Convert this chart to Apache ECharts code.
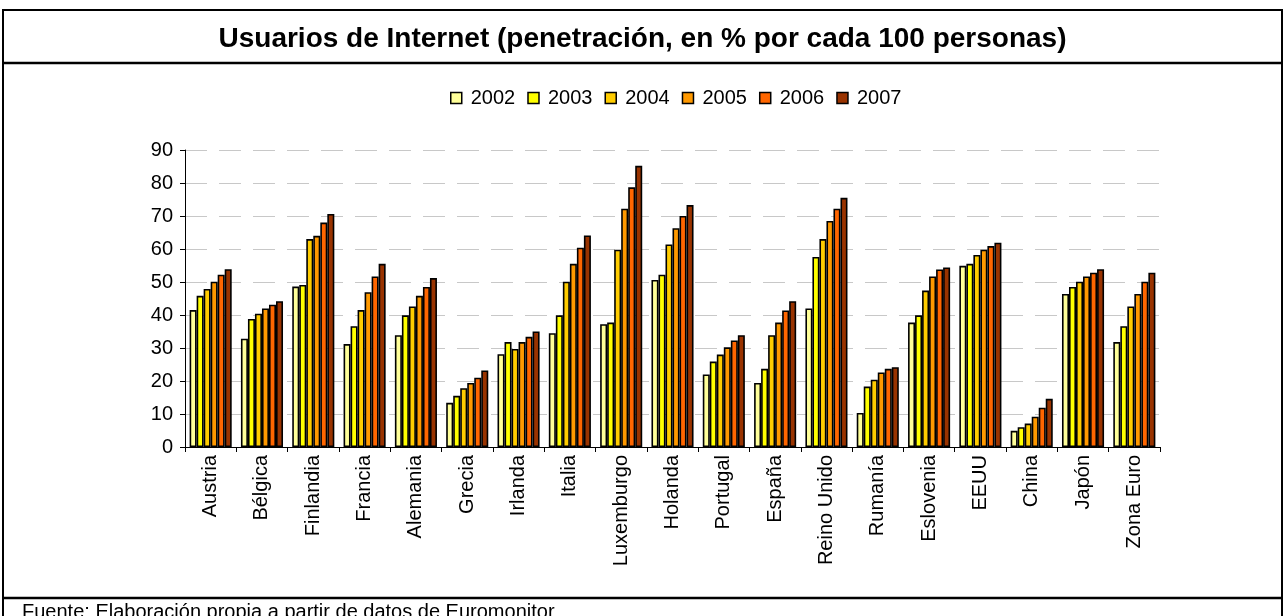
<!DOCTYPE html>
<html lang="es">
<head>
    <meta charset="UTF-8">
    <title>Usuarios de Internet</title>
    <script src="https://cdn.jsdelivr.net/npm/echarts@6.0.0/dist/echarts.min.js"></script>
    <style>
        html, body { margin: 0; padding: 0; background: #fff; }
    </style>
</head>
<body>
    <div id="main" style="width: 1285px;height:616px;"></div>

    <script type="text/javascript">
        // Countries on the x axis
        const categories = ['Austria', 'Bélgica', 'Finlandia', 'Francia', 'Alemania', 'Grecia', 'Irlanda', 'Italia',
            'Luxemburgo', 'Holanda', 'Portugal', 'España', 'Reino Unido', 'Rumanía', 'Eslovenia', 'EEUU',
            'China', 'Japón', 'Zona Euro'];

        const years = ['2002', '2003', '2004', '2005', '2006', '2007'];

        // values, one array per year
        const v2002 = [41.5, 32.8, 48.6, 31.2, 33.9, 13.4, 28.1, 34.5, 37.2, 50.6, 22.0, 19.4, 42.0, 10.3, 37.7, 54.9, 4.9, 46.4, 31.8];
        const v2003 = [45.8, 38.8, 49.1, 36.6, 39.9, 15.5, 31.8, 39.9, 37.7, 52.2, 25.9, 23.7, 57.6, 18.3, 39.9, 55.5, 6.0, 48.5, 36.6];
        const v2004 = [47.9, 40.4, 63.0, 41.5, 42.6, 17.8, 29.7, 50.1, 59.8, 61.4, 28.0, 33.9, 63.0, 20.4, 47.4, 58.2, 7.1, 50.1, 42.6];
        const v2005 = [50.1, 42.0, 64.0, 46.9, 45.8, 19.4, 31.8, 55.5, 72.2, 66.3, 30.2, 37.7, 68.5, 22.6, 51.7, 59.8, 9.2, 51.7, 46.4];
        const v2006 = [52.2, 43.1, 68.0, 51.7, 48.5, 21.0, 33.4, 60.4, 78.7, 70.0, 32.3, 41.4, 72.2, 23.7, 53.8, 60.9, 11.9, 52.8, 50.1];
        const v2007 = [53.9, 44.2, 70.6, 55.5, 51.2, 23.2, 35.0, 64.1, 85.2, 73.3, 33.9, 44.2, 75.5, 24.2, 54.4, 61.9, 14.6, 53.9, 52.8];

        const yTicks = [0, 10, 20, 30, 40, 50, 60, 70, 80, 90];

        const allValues = [v2002, v2003, v2004, v2005, v2006, v2007];
        const colors = ['#FFFF99', '#FFFF00', '#FFCC00', '#FF9900', '#FF6600', '#993300'];

        let myChart = echarts.init(document.getElementById('main'));

        const font = '"Liberation Sans", Arial, sans-serif';

        let series = years.map((y, i) => ({
            name: y,
            type: 'bar',
            data: allValues[i],
            barGap: '0%',
            barCategoryGap: '18%',
            itemStyle: { color: colors[i], borderColor: '#000', borderWidth: 1.6 },
            emphasis: { disabled: true }
        }));

        let options = {
            animation: false,
            textStyle: { fontFamily: font },
            title: {
                text: 'Usuarios de Internet (penetración, en % por cada 100 personas)',
                left: 'center',
                top: 20,
                textStyle: { fontSize: 28, fontWeight: 'bold', color: '#000', fontFamily: font }
            },
            legend: {
                top: 83,
                left: 445,
                itemWidth: 11,
                itemHeight: 11,
                itemGap: 12,
                icon: 'rect',
                itemStyle: { borderColor: '#000', borderWidth: 1.5 },
                textStyle: { fontSize: 20, color: '#000', padding: [0, 0, 0, 4] },
                data: years
            },
            grid: { left: 185, right: 125, top: 150, bottom: 169 },
            xAxis: {
                type: 'category',
                data: categories,
                axisLine: { lineStyle: { color: '#000', width: 1 } },
                axisTick: { show: true, length: 5, alignWithLabel: false, lineStyle: { color: '#000' } },
                axisLabel: { rotate: 90, fontSize: 20, color: '#000', margin: 8, interval: 0 }
            },
            yAxis: {
                type: 'value',
                min: yTicks[0],
                max: yTicks[yTicks.length - 1],
                interval: 10,
                axisLine: { show: true, lineStyle: { color: '#000', width: 1 } },
                axisTick: { show: true, length: 5, lineStyle: { color: '#000' } },
                axisLabel: { fontSize: 20, color: '#000', margin: 12 },
                splitLine: { lineStyle: { color: '#c8c8c8', type: [22, 12], width: 1 } }
            },
            series: series,
            graphic: [
                // outer frame and separator lines
                { type: 'rect', shape: { x: 3, y: 10, width: 1279, height: 620 }, style: { fill: 'none', stroke: '#000', lineWidth: 2 }, silent: true },
                { type: 'line', shape: { x1: 3, y1: 63, x2: 1282, y2: 63 }, style: { stroke: '#000', lineWidth: 2.5 }, silent: true },
                { type: 'line', shape: { x1: 3, y1: 598, x2: 1282, y2: 598 }, style: { stroke: '#000', lineWidth: 2.5 }, silent: true },
                {
                    type: 'text', left: 22, top: 602, silent: true,
                    style: { text: 'Fuente: Elaboración propia a partir de datos de Euromonitor', fontSize: 20, fill: '#000', fontFamily: font }
                }
            ]
        };

        myChart.setOption(options);
    </script>
</body>
</html>
